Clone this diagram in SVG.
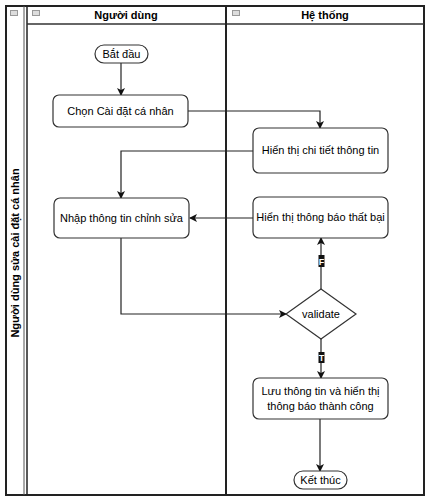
<svg xmlns="http://www.w3.org/2000/svg" width="431" height="504" viewBox="0 0 431 504">
<style>
.node{fill:#fff;stroke:#333;stroke-width:1.2}
.t{font-family:"Liberation Sans",Arial,sans-serif;font-size:11px;fill:#000;text-anchor:middle}
.h{font-family:"Liberation Sans",Arial,sans-serif;font-size:11px;font-weight:bold;fill:#000;text-anchor:middle}
.c{fill:none;stroke:#222;stroke-width:1.2}
.lbl{font-family:"Liberation Sans",Arial,sans-serif;font-size:9px;font-weight:bold;fill:#fff;text-anchor:middle}
.ic{fill:#ddd;stroke:#999;stroke-width:1}
</style>
<defs>
<marker id="ar" markerWidth="8" markerHeight="8" refX="7" refY="4" orient="auto" markerUnits="userSpaceOnUse">
<path d="M0,0 L8,4 L0,8 L2,4 Z" fill="#111"/>
</marker>
</defs>
<rect width="431" height="504" fill="#fff"/>
<g id="pool">
<rect x="6" y="6" width="418" height="489" fill="none" stroke="#222" stroke-width="2"/>
<line x1="24" y1="6" x2="24" y2="495" stroke="#555" stroke-width="1"/>
<line x1="27" y1="6" x2="27" y2="495" stroke="#222" stroke-width="1.5"/>
<line x1="27" y1="24" x2="424" y2="24" stroke="#333" stroke-width="1.5"/>
<line x1="226" y1="6" x2="226" y2="495" stroke="#222" stroke-width="2"/>
<rect class="ic" x="10.5" y="10.5" width="7" height="5"/>
<rect class="ic" x="32.5" y="10.5" width="7" height="5"/>
<rect class="ic" x="232.5" y="10.5" width="7" height="5"/>
<text class="h" transform="translate(19,253) rotate(-90)">Người dùng sửa cài đặt cá nhân</text>
<text class="h" x="126" y="19">Người dùng</text>
<text class="h" x="325" y="19">Hệ thống</text>
</g>
<g id="connectors">
<path class="c" d="M121,63 V95" marker-end="url(#ar)"/>
<path class="c" d="M188,111 H320 V128" marker-end="url(#ar)"/>
<path class="c" d="M253,151 H121 V198" marker-end="url(#ar)"/>
<path class="c" d="M121,238 V314 H286" marker-end="url(#ar)"/>
<path class="c" d="M321,289 V238" marker-end="url(#ar)"/>
<path class="c" d="M253,218 H190" marker-end="url(#ar)"/>
<path class="c" d="M321,339 V378" marker-end="url(#ar)"/>
<path class="c" d="M320,419 V471" marker-end="url(#ar)"/>
<rect x="318.5" y="255" width="6" height="12" fill="#111"/>
<text class="lbl" x="321.5" y="264.5">F</text>
<rect x="318.5" y="352" width="6" height="11" fill="#111"/>
<text class="lbl" x="321.5" y="361">T</text>
</g>
<g id="start">
<rect class="node" x="95" y="45" width="53" height="18" rx="9"/>
<text class="t" x="121.5" y="58">Bắt đầu</text>
</g>
<g id="chon">
<rect class="node" x="53" y="95" width="135" height="32" rx="6"/>
<text class="t" x="120.5" y="115">Chọn Cài đặt cá nhân</text>
</g>
<g id="chitiet">
<rect class="node" x="253" y="128" width="135" height="45" rx="6"/>
<text class="t" x="320.5" y="154">Hiển thị chi tiết thông tin</text>
</g>
<g id="nhap">
<rect class="node" x="54" y="198" width="135" height="40" rx="6"/>
<text class="t" x="121.5" y="222">Nhập thông tin chỉnh sửa</text>
</g>
<g id="thatbai">
<rect class="node" x="253" y="197" width="135" height="41" rx="6"/>
<text class="t" x="320.5" y="221">Hiển thị thông báo thất bại</text>
</g>
<g id="validate">
<path class="node" d="M321,289 L356,314 L321,339 L286,314 Z"/>
<text class="t" x="321" y="318">validate</text>
</g>
<g id="luu">
<rect class="node" x="253" y="378" width="135" height="41" rx="6"/>
<text class="t" x="320.5" y="395">Lưu thông tin và hiển thị</text>
<text class="t" x="320.5" y="410">thông báo thành công</text>
</g>
<g id="end">
<rect class="node" x="294" y="471" width="53" height="18" rx="9"/>
<text class="t" x="320.5" y="484">Kết thúc</text>
</g>
</svg>
